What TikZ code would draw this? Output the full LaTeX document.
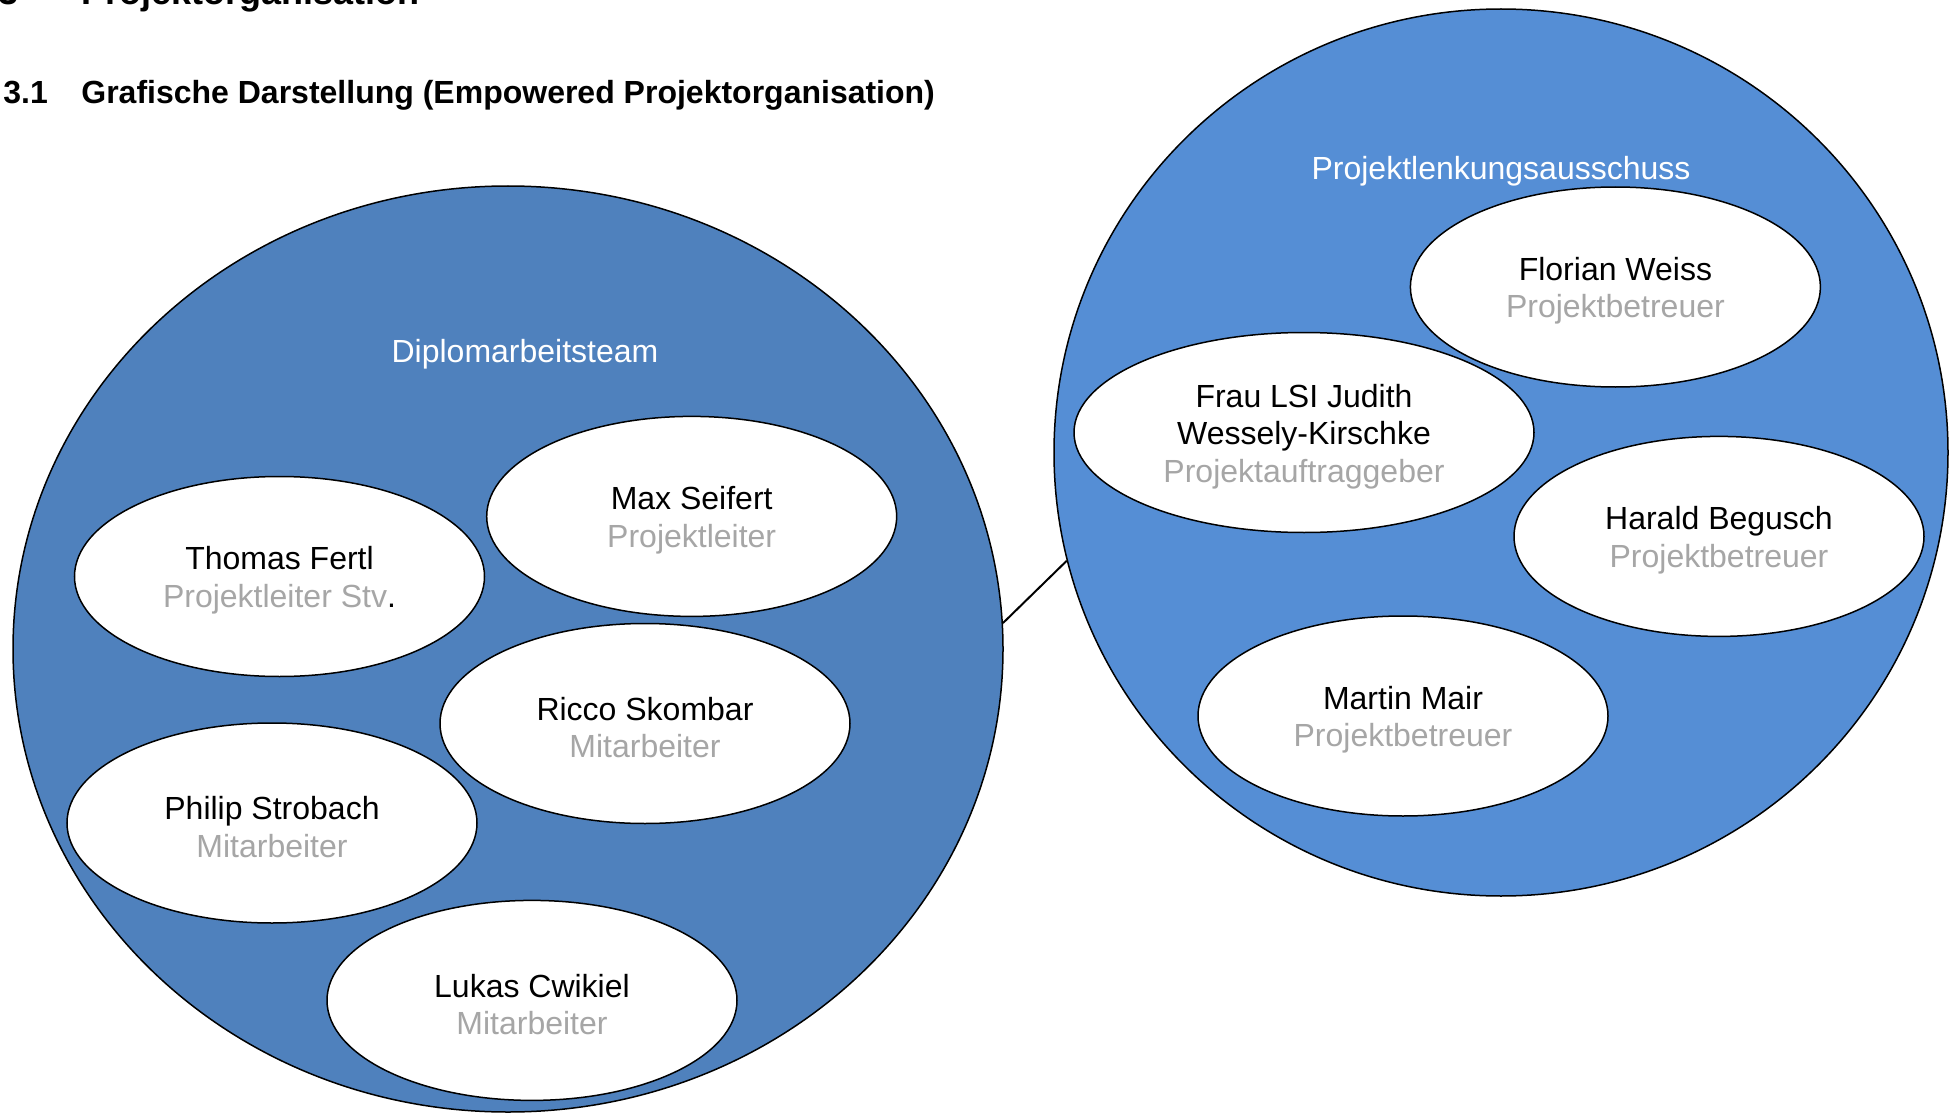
\documentclass[tikz,border=0pt]{standalone}
\usepackage{fontspec}
\setmainfont{Liberation Sans}
\usetikzlibrary{shapes.geometric}
\definecolor{teamblue}{HTML}{4F81BD}
\definecolor{boardblue}{HTML}{558ED5}
\definecolor{rolegray}{HTML}{A6A6A6}
\newcommand{\firstline}{\rule{0pt}{15.5pt}}
\begin{document}
\begin{tikzpicture}[x=0.5pt,y=-0.5pt,
  group/.style={ellipse, draw=black, line width=0.75pt, inner sep=0pt},
  member/.style={ellipse, draw=black, fill=white, line width=0.75pt, inner sep=0pt,
    minimum width=205pt, minimum height=100pt, align=center,
    font=\fontsize{16}{18.7}\selectfont},
  grouplabel/.style={text=white, inner sep=0pt, font=\fontsize{16}{18.7}\selectfont},
  heading/.style={inner sep=0pt, anchor=base west, font=\bfseries\fontsize{16}{19}\selectfont},
  bigheading/.style={inner sep=0pt, anchor=base west, font=\bfseries\fontsize{18}{21}\selectfont},
  connector/.style={draw=black, line width=1pt}]
\useasboundingbox (0,0) rectangle (1956,1113);
\clip (0,0) rectangle (1956,1113);

% headings
\node[bigheading] (h0num) at (-2,5) {3};
\node[bigheading] (h0) at (81,5) {Projektorganisation};
\node[heading] (h1num) at (3,104) {3.1};
\node[heading] (h1) at (81,104) {Grafische Darstellung (Empowered Projektorganisation)};

% groups
\node[group, fill=teamblue, minimum width=495pt, minimum height=463pt] (team) at (508,649) {};
\node[group, fill=boardblue, minimum width=447pt, minimum height=443.5pt] (board) at (1501,452.5) {};

\node[grouplabel] (teamlabel) at (525,354.5) {Diplomarbeitsteam};
\node[grouplabel] (boardlabel) at (1501,171) {Projektlenkungsausschuss};

% team members
\node[member] (fertl) at (279.5,576.5) {\firstline Thomas Fertl\\\textcolor{rolegray}{Projektleiter Stv}.};
\node[member] (seifert) at (691.7,516.4) {\firstline Max Seifert\\\textcolor{rolegray}{Projektleiter}};
\node[member] (skombar) at (645,723.5) {\firstline Ricco Skombar\\\textcolor{rolegray}{Mitarbeiter}};
\node[member] (strobach) at (272,823) {\firstline Philip Strobach\\\textcolor{rolegray}{Mitarbeiter}};
\node[member] (cwikiel) at (532,1000.4) {\firstline Lukas Cwikiel\\\textcolor{rolegray}{Mitarbeiter}};

% steering committee
\node[member] (weiss) at (1615.4,287) {\firstline Florian Weiss\\\textcolor{rolegray}{Projektbetreuer}};
\node[member, minimum width=230pt] (wessely) at (1304,432.5) {\firstline Frau LSI Judith\\Wessely-Kirschke\\\textcolor{rolegray}{Projektauftraggeber}};
\node[member] (begusch) at (1719,536.4) {\firstline Harald Begusch\\\textcolor{rolegray}{Projektbetreuer}};
\node[member] (mair) at (1403,716) {\firstline Martin Mair\\\textcolor{rolegray}{Projektbetreuer}};

% connector
\draw[connector] (team.3.7) -- (board.194.5);
\end{tikzpicture}
\end{document}
